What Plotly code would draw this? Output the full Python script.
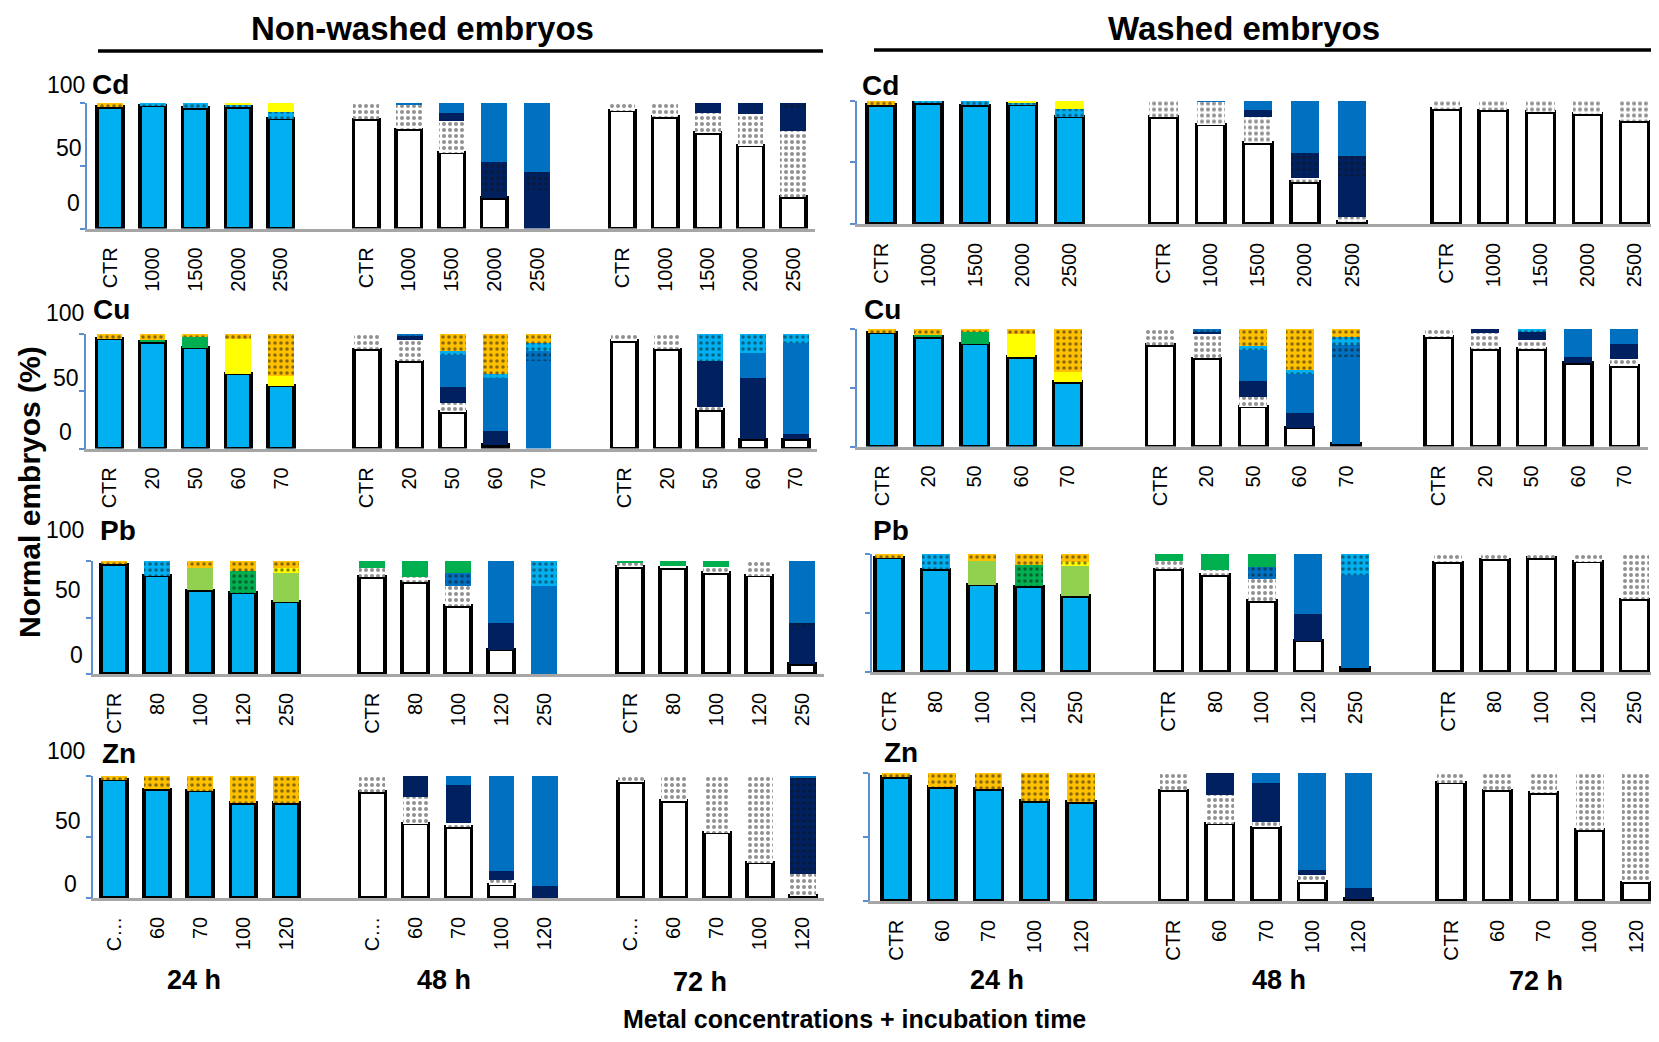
import plotly.graph_objects as go

# ---------------- page geometry (reference pixels) ----------------
W, H, OFF = 1643, 1026, 8          # body margin of 8px in the browser


def px_x(x):
    return (x - OFF) / W


def px_y(y):
    return 1 - (y - OFF) / H


# ---------------- labels ----------------
TIMES = ["24 h", "48 h", "72 h"]
CD_CONC = ["CTR", "1000", "1500", "2000", "2500"]
CU_CONC = ["CTR", "20", "50", "60", "70"]
PB_CONC = ["CTR", "80", "100", "120", "250"]
ZN_CONC = ["CTR", "60", "70", "100", "120"]
ZN_CONC_NW = ["C…", "60", "70", "100", "120"]
METALS = ["Cd", "Cu", "Pb", "Zn"]

# ---------------- data (% of embryos, 24h x5 | 48h x5 | 72h x5) ----------------
CD_NW = {
    "normal":     [97, 98, 96, 97, 87.5, 87, 79, 60.5, 24.5, 0, 94, 89, 76, 66, 25],
    "dotted":     [0, 0, 0, 0, 0, 13, 20, 25.5, 0, 0, 6, 11, 16, 25.5, 53],
    "navy":       [0, 0, 0, 0, 0, 0, 0, 6, 2.5, 31, 0, 0, 8, 8.5, 17],
    "navy_dot":   [0, 0, 0, 0, 0, 0, 0, 0, 26, 14, 0, 0, 0, 0, 5],
    "mid":        [0, 0, 0, 0, 0, 0, 1, 8, 47, 55, 0, 0, 0, 0, 0],
    "light_dot":  [0, 2, 4, 1.5, 5.5, 0, 0, 0, 0, 0, 0, 0, 0, 0, 0],
    "yellow":     [0, 0, 0, 1.5, 7, 0, 0, 0, 0, 0, 0, 0, 0, 0, 0],
    "orange_dot": [3, 0, 0, 0, 0, 0, 0, 0, 0, 0, 0, 0, 0, 0, 0],
}
CD_W = {
    "normal":     [96.5, 98, 96, 97, 87, 86.5, 80.5, 65.5, 34, 2, 93, 92, 90.5, 89, 83],
    "dotted":     [0, 0, 0, 0, 0, 13.5, 18.7, 21, 3, 3.5, 7, 8, 9.5, 11, 17],
    "navy":       [0, 0, 0, 0, 0, 0, 0, 6, 3, 33.5, 0, 0, 0, 0, 0],
    "navy_dot":   [0, 0, 0, 0, 0, 0, 0, 0, 17.5, 16, 0, 0, 0, 0, 0],
    "mid":        [0, 0, 0, 0, 0, 0, 0.8, 7.5, 42.5, 45, 0, 0, 0, 0, 0],
    "light_dot":  [0, 2, 4, 1.5, 6, 0, 0, 0, 0, 0, 0, 0, 0, 0, 0],
    "yellow":     [0, 0, 0, 1.5, 7, 0, 0, 0, 0, 0, 0, 0, 0, 0, 0],
    "orange_dot": [3.5, 0, 0, 0, 0, 0, 0, 0, 0, 0, 0, 0, 0, 0, 0],
}
CU_NW = {
    "normal":     [96, 93, 88, 65.5, 55, 86.5, 76, 32, 3, 0, 94, 86.5, 33.5, 8, 8],
    "dotted":     [0, 0, 0, 0, 0, 13.5, 19, 8, 0, 0, 6, 13.5, 3, 0, 0],
    "navy":       [0, 0, 0, 0, 0, 0, 3, 14, 12.5, 0, 0, 0, 40, 54, 5],
    "mid":        [0, 0, 0, 0, 0, 0, 0, 28, 46.5, 76, 0, 0, 0, 21, 79.5],
    "mid_dot":    [0, 0, 0, 0, 0, 0, 2, 0, 0, 9.5, 0, 0, 0, 0, 0],
    "light_dot":  [0, 0, 0, 0, 0, 0, 0, 3, 3, 7, 0, 0, 23.5, 17, 7.5],
    "green":      [0, 2, 9.5, 0, 0, 0, 0, 0, 0, 0, 0, 0, 0, 0, 0],
    "yellow":     [0, 0, 0, 30, 8, 0, 0, 0, 0, 0, 0, 0, 0, 0, 0],
    "orange_dot": [4, 5, 2.5, 4.5, 37, 0, 0, 15, 35, 7.5, 0, 0, 0, 0, 0],
}
CU_W = {
    "normal":     [97, 93, 87.5, 76, 55, 86.5, 75, 34, 16, 2.3, 93, 83, 83, 71, 68.5],
    "dotted":     [0, 0, 0, 0, 0, 13.5, 20.5, 8, 0, 0, 7, 14, 8, 0, 5.7],
    "navy":       [0, 0, 0, 0, 0, 0, 2, 13.5, 12.5, 0, 0, 3, 6.5, 5, 13],
    "mid":        [0, 0, 0, 0, 0, 0, 0, 27, 33.5, 74, 0, 0, 0, 24, 12.8],
    "mid_dot":    [0, 0, 0, 0, 0, 0, 2.5, 0, 0, 10, 0, 0, 0, 0, 0],
    "light_dot":  [0, 0, 0, 0, 0, 0, 0, 3, 3.5, 6.7, 0, 0, 2.5, 0, 0],
    "green":      [0, 2, 10, 0, 0, 0, 0, 0, 0, 0, 0, 0, 0, 0, 0],
    "yellow":     [0, 0, 0, 20, 8, 0, 0, 0, 0, 0, 0, 0, 0, 0, 0],
    "orange_dot": [3, 5, 2.5, 4, 37, 0, 0, 14.5, 34.5, 7, 0, 0, 0, 0, 0],
}
PB_NW = {
    "normal":     [97, 87, 74, 72, 64, 86, 81.5, 60, 21.5, 0, 94.5, 94, 89.5, 87, 9],
    "dotted":     [0, 0, 0, 0, 0, 7.5, 4.5, 18, 0, 0, 3.5, 2, 5.5, 13, 0],
    "navy":       [0, 0, 0, 0, 0, 0, 0, 0, 24, 0, 0, 0, 0, 0, 31],
    "navy_dot":   [0, 0, 0, 0, 0, 0, 0, 0, 0, 0, 0, 0, 0, 0, 5],
    "mid":        [0, 0, 0, 0, 0, 0, 0, 0, 54.5, 78, 0, 0, 0, 0, 55],
    "mid_dot":    [0, 0, 0, 0, 0, 0, 0, 11, 0, 0, 0, 0, 0, 0, 0],
    "light_dot":  [0, 13, 0, 0, 0, 0, 0, 0, 0, 22, 0, 0, 0, 0, 0],
    "green":      [0, 0, 0, 0, 0, 6.5, 14, 11, 0, 0, 2, 4, 5, 0, 0],
    "lgreen":     [0, 0, 19.5, 0, 25.5, 0, 0, 0, 0, 0, 0, 0, 0, 0, 0],
    "dgreen_dot": [0, 0, 0, 19, 0, 0, 0, 0, 0, 0, 0, 0, 0, 0, 0],
    "yellow_dot": [0, 0, 0, 0, 4.5, 0, 0, 0, 0, 0, 0, 0, 0, 0, 0],
    "orange_dot": [3, 0, 6.5, 9, 6, 0, 0, 0, 0, 0, 0, 0, 0, 0, 0],
}
PB_W = {
    "normal":     [97, 87, 74, 72.5, 64.5, 87, 82, 60, 26.5, 3.5, 93, 95.5, 96.5, 93.5, 61.5],
    "dotted":     [0, 0, 0, 0, 0, 7, 4.5, 18.5, 0, 0, 7, 4.5, 3.5, 6.5, 38.5],
    "navy":       [0, 0, 0, 0, 0, 0, 0, 0, 22.5, 0, 0, 0, 0, 0, 0],
    "mid":        [0, 0, 0, 0, 0, 0, 0, 0, 51, 78.5, 0, 0, 0, 0, 0],
    "mid_dot":    [0, 0, 0, 0, 0, 0, 0, 10.5, 0, 0, 0, 0, 0, 0, 0],
    "light_dot":  [0, 13, 0, 0, 0, 0, 0, 0, 0, 18, 0, 0, 0, 0, 0],
    "green":      [0, 0, 0, 0, 0, 6, 13.5, 11, 0, 0, 0, 0, 0, 0, 0],
    "lgreen":     [0, 0, 20, 0, 25.5, 0, 0, 0, 0, 0, 0, 0, 0, 0, 0],
    "dgreen_dot": [0, 0, 0, 18.5, 0, 0, 0, 0, 0, 0, 0, 0, 0, 0, 0],
    "yellow_dot": [0, 0, 0, 0, 3.5, 0, 0, 0, 0, 0, 0, 0, 0, 0, 0],
    "orange_dot": [3, 0, 6, 9, 6.5, 0, 0, 0, 0, 0, 0, 0, 0, 0, 0],
}
ZN_NW = {
    "normal":     [97, 89, 88, 78, 78, 87, 61, 58, 11, 0, 95, 79.5, 53.5, 29, 2],
    "dotted":     [0, 0, 0, 0, 0, 13, 22, 3.5, 4, 0, 5, 20.5, 46.5, 71, 18],
    "navy":       [0, 0, 0, 0, 0, 0, 17, 31.5, 7.5, 9.5, 0, 0, 0, 0, 0],
    "navy_dot":   [0, 0, 0, 0, 0, 0, 0, 0, 0, 0, 0, 0, 0, 0, 78.5],
    "mid":        [0, 0, 0, 0, 0, 0, 0, 7, 77.5, 90.5, 0, 0, 0, 0, 1.5],
    "orange_dot": [3, 11, 12, 22, 22, 0, 0, 0, 0, 0, 0, 0, 0, 0, 0],
}
ZN_W = {
    "normal":     [97, 89, 87.5, 78, 77.5, 86.5, 60.5, 57.5, 15, 1.5, 92.5, 86.5, 84.5, 55.5, 14.5],
    "dotted":     [0, 0, 0, 0, 0, 13.5, 22.5, 4, 5, 0, 7.5, 13.5, 15.5, 44.5, 85.5],
    "navy":       [0, 0, 0, 0, 0, 0, 17, 30.5, 4.5, 9, 0, 0, 0, 0, 0],
    "mid":        [0, 0, 0, 0, 0, 0, 0, 8, 75.5, 89.5, 0, 0, 0, 0, 0],
    "orange_dot": [3, 11, 12.5, 22, 22.5, 0, 0, 0, 0, 0, 0, 0, 0, 0, 0],
}

# ---------------- styles ----------------
ORDER = ["normal", "dotted", "navy", "navy_dot", "mid", "mid_dot", "light_dot",
         "green", "lgreen", "dgreen_dot", "yellow", "yellow_dot", "orange_dot"]
STYLE = {
    "dotted":     ("#FFFFFF", True),
    "navy":       ("#002060", False),
    "navy_dot":   ("#002060", True),
    "mid":        ("#0070C0", False),
    "mid_dot":    ("#0070C0", True),
    "light_dot":  ("#00B0F0", True),
    "green":      ("#00B050", False),
    "lgreen":     ("#92D050", False),
    "dgreen_dot": ("#00B050", True),
    "yellow":     ("#FFFF00", False),
    "yellow_dot": ("#FFFF00", True),
    "orange_dot": ("#FFC000", True),
}
NORMAL_24 = "#00B0F0"
NORMAL_LATE = "#FFFFFF"

# panel geometry: (slot0 centre px, slot spacing px, axis-left px, top px, baseline px)
PANELS = [
    (CD_NW, CD_CONC, "Cd", False, (110, 42.7, 87, 103, 228.5)),
    (CU_NW, CU_CONC, "Cu", False, (109.5, 42.9, 86, 334, 448.5)),
    (PB_NW, PB_CONC, "Pb", False, (114, 43.0, 93, 561, 674)),
    (ZN_NW, ZN_CONC_NW, "Zn", False, (114, 43.06, 93, 776, 898)),
    (CD_W, CD_CONC, "Cd", True, (881, 47.1, 857, 100.5, 224)),
    (CU_W, CU_CONC, "Cu", True, (882, 46.4, 857, 329, 446.5)),
    (PB_W, PB_CONC, "Pb", True, (889, 46.6, 872, 554, 672)),
    (ZN_W, ZN_CONC, "Zn", True, (896, 46.25, 870, 773, 901)),
]

METAL_LABEL_POS = [(110, 84), (111, 310), (118, 530), (119, 753),
                   (880, 85), (882, 309), (891, 530), (901, 752)]
YLAB_POS = [  # (text, right px, centre y px)
    [("100", 87, 85), ("50", 84, 148), ("0", 82, 203)],
    [("100", 86, 313), ("50", 81, 378), ("0", 74, 432)],
    [("100", 86, 530), ("50", 83, 590), ("0", 85, 655)],
    [("100", 87, 751), ("50", 83, 821), ("0", 79, 884)],
]

FONT = "Liberation Sans, Arial, sans-serif"

fig = go.Figure()
layout = dict(
    width=W, height=H, margin=dict(l=0, r=0, t=0, b=0),
    paper_bgcolor="white", plot_bgcolor="rgba(0,0,0,0)",
    barmode="stack", showlegend=False,
    font=dict(family=FONT, color="black"),
)

xs = [6 * g + i for g in range(3) for i in range(5)]

for k, (data, conc, metal, washed, geo) in enumerate(PANELS):
    ax = k + 1
    c0, s, left, top, base = geo
    right = min(c0 + 16.5 * s, OFF + W)
    rng = [(left - c0) / s, (right - c0) / s]
    for key in ORDER:
        if key not in data:
            continue
        y = [v if v > 0 else None for v in data[key]]
        if all(v is None for v in y):
            continue
        if key == "normal":
            colors = [NORMAL_24] * 5 + [NORMAL_LATE] * 10
            marker = dict(color=colors, line=dict(color="black", width=3.5))
        else:
            col, dotted = STYLE[key]
            marker = dict(color=col, line=dict(width=0))
            if dotted:
                marker["pattern"] = dict(shape=".", fillmode="overlay",
                                         fgcolor="#222222" if key == "dotted" else "#111111",
                                         size=6, solidity=0.36 if key == "dotted" else 0.28)
        fig.add_trace(go.Bar(x=xs, y=y, width=0.6, marker=marker,
                             xaxis="x" if ax == 1 else f"x{ax}",
                             yaxis="y" if ax == 1 else f"y{ax}",
                             hoverinfo="skip"))
    xname = "xaxis" if ax == 1 else f"xaxis{ax}"
    yname = "yaxis" if ax == 1 else f"yaxis{ax}"
    layout[xname] = dict(
        domain=[px_x(left), px_x(right)], range=rng,
        anchor="y" if ax == 1 else f"y{ax}",
        tickmode="array", tickvals=xs, ticktext=conc * 3, tickangle=-90,
        tickfont=dict(size=20, color="black", family=FONT),
        ticks="", ticklabelstandoff=8,
        showline=True, linecolor="#A6A6A6", linewidth=2.5,
        showgrid=False, zeroline=False, fixedrange=True,
    )
    layout[yname] = dict(
        domain=[px_y(base), px_y(top)], range=[0, 100],
        anchor="x" if ax == 1 else f"x{ax}",
        showline=True, linecolor="#5B8FD0", linewidth=1.5,
        ticks="outside", ticklen=5, tickwidth=1.5, tickcolor="#5B8FD0",
        tickvals=[0, 50, 100], showticklabels=False,
        showgrid=False, zeroline=False, fixedrange=True,
    )

annotations = []
for k, metal in enumerate([p[2] for p in PANELS]):
    x, y = METAL_LABEL_POS[k]
    annotations.append(dict(x=px_x(x), y=px_y(y), xref="paper", yref="paper",
                            text=f"<b>{metal}</b>", showarrow=False,
                            font=dict(size=28, family=FONT, color="black"),
                            xanchor="center", yanchor="middle"))
for row in YLAB_POS:
    for text, xr, yc in row:
        annotations.append(dict(x=px_x(xr), y=px_y(yc), xref="paper", yref="paper",
                                text=text, showarrow=False,
                                font=dict(size=23, family=FONT, color="black"),
                                xanchor="right", yanchor="middle"))

TITLE_NW = "Non-washed embryos"
TITLE_W = "Washed embryos"
for text, xc in [(TITLE_NW, 423), (TITLE_W, 1244)]:
    annotations.append(dict(x=px_x(xc), y=px_y(9), xref="paper", yref="paper",
                            text=f"<b>{text}</b>", showarrow=False,
                            font=dict(size=33, family=FONT, color="black"),
                            xanchor="center", yanchor="top", borderpad=0))

TIME_POS = [(194, 980), (444, 980), (700, 982), (997, 980), (1279, 980), (1536, 981)]
for i, (xc, yc) in enumerate(TIME_POS):
    annotations.append(dict(x=px_x(xc), y=px_y(yc), xref="paper", yref="paper",
                            text=f"<b>{TIMES[i % 3]}</b>", showarrow=False,
                            font=dict(size=27, family=FONT, color="black"),
                            xanchor="center", yanchor="middle", borderpad=0))

annotations.append(dict(x=px_x(855), y=px_y(1033.5), xref="paper", yref="paper",
                        text="<b>Metal concentrations + incubation time</b>", showarrow=False,
                        font=dict(size=25, family=FONT, color="black"),
                        xanchor="center", yanchor="bottom", borderpad=0))
annotations.append(dict(x=px_x(29), y=px_y(492), xref="paper", yref="paper",
                        text="<b>Normal embryos (%)</b>", showarrow=False, textangle=-90,
                        font=dict(size=30, family=FONT, color="black"),
                        xanchor="center", yanchor="middle"))
layout["annotations"] = annotations

layout["shapes"] = [
    dict(type="line", xref="paper", yref="paper", x0=px_x(98), x1=px_x(823),
         y0=px_y(51), y1=px_y(51), line=dict(color="black", width=3.5)),
    dict(type="line", xref="paper", yref="paper", x0=px_x(874), x1=px_x(1651),
         y0=px_y(50), y1=px_y(50), line=dict(color="black", width=3.5)),
]

fig.update_layout(**layout)
fig.write_html("out.html")
